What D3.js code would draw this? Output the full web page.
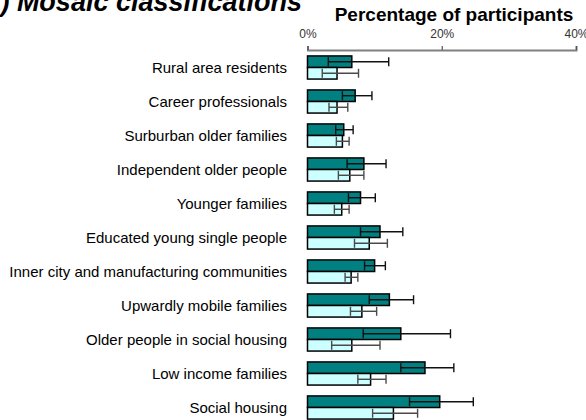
<!DOCTYPE html>
<html>
<head>
<meta charset="utf-8">
<script src="https://cdn.jsdelivr.net/npm/d3@7"></script>
<style>
  html, body { margin: 0; padding: 0; background: #fff; }
  svg { display: block; font-family: "Liberation Sans", Arial, sans-serif; }
</style>
</head>
<body>
<svg id="chart" width="586" height="420"></svg>
<script>
// Mosaic groups, top to bottom
const categories = [
  "Rural area residents",
  "Career professionals",
  "Surburban older families",
  "Independent older people",
  "Younger families",
  "Educated young single people",
  "Inner city and manufacturing communities",
  "Upwardly mobile families",
  "Older people in social housing",
  "Low income families",
  "Social housing"
];

// Participants (dark bars): percentage with 95% interval
const participantPct  = [6.6, 7.1, 5.4, 8.4, 7.9, 10.8, 10.0, 12.2, 13.9, 17.5, 19.7];
const participantLow  = [3.1, 5.2, 4.2, 5.9, 6.1, 7.9, 8.5, 9.2, 8.3, 13.9, 15.2];
const participantHigh = [12.1, 9.6, 6.8, 11.7, 10.1, 14.2, 11.6, 15.8, 21.3, 21.8, 24.7];

// Comparison population (light bars): percentage with 95% interval
const populationPct  = [4.4, 4.4, 5.2, 6.3, 5.1, 9.2, 6.5, 8.1, 6.6, 9.4, 12.8];
const populationLow  = [2.2, 3.2, 4.3, 4.6, 4.0, 7.0, 5.6, 6.4, 3.6, 7.5, 9.7];
const populationHigh = [7.6, 6.0, 6.2, 8.4, 6.2, 11.9, 7.5, 10.3, 10.8, 11.7, 16.4];

const xTicks = [0, 20, 40];
const xTickLabels = ["0%", "20%", "40%"];

const series = [
  { key: "participants", pct: participantPct, low: participantLow, high: participantHigh,
    fill: "#008080", err: "#111111" },
  { key: "population", pct: populationPct, low: populationLow, high: populationHigh,
    fill: "#ccffff", err: "#4a4a4a" }
];

const svg = d3.select("#chart");

const x = d3.scaleLinear().domain([0, 40]).range([307.5, 576]);
const y = d3.scaleBand().domain(categories).range([50.5, 424.5])
  .paddingInner(0.32).paddingOuter(0.16);
const ySub = d3.scaleBand().domain(series.map(s => s.key)).range([0, y.bandwidth()]);

// Panel heading, partly above the top edge
svg.append("text")
  .attr("x", 302).attr("y", 11)
  .attr("text-anchor", "end")
  .attr("font-size", 27).attr("font-weight", "bold").attr("font-style", "italic")
  .attr("fill", "#000")
  .text("(a) Mosaic classifications");

// Axis title
svg.append("text")
  .attr("x", 454).attr("y", 21)
  .attr("text-anchor", "middle")
  .attr("font-size", 19).attr("font-weight", "bold")
  .attr("fill", "#000")
  .text("Percentage of participants");

// Top axis
const axis = d3.axisTop(x)
  .tickValues(xTicks)
  .tickFormat((d, i) => xTickLabels[i])
  .tickSizeInner(4).tickSizeOuter(4).tickPadding(8);
const gAxis = svg.append("g").attr("transform", "translate(0,50)").call(axis);
gAxis.select(".domain").attr("stroke", "#808080").attr("stroke-width", 2);
gAxis.selectAll(".tick line").attr("stroke", "#555").attr("stroke-width", 1.2);
gAxis.selectAll(".tick text")
  .attr("font-size", 12).attr("fill", "#333")
  .attr("font-family", "'Liberation Sans', Arial, sans-serif");

// Category labels
svg.append("g").selectAll("text")
  .data(categories)
  .join("text")
  .attr("x", 287)
  .attr("y", d => y(d) + y.bandwidth() / 2)
  .attr("dy", "0.35em")
  .attr("text-anchor", "end")
  .attr("font-size", 15)
  .attr("fill", "#000")
  .text(d => d);

// Bars and intervals
series.forEach(s => {
  const g = svg.append("g");
  const rows = categories.map((c, i) => ({ c, v: s.pct[i], lo: s.low[i], hi: s.high[i] }));
  const h = ySub.bandwidth();
  const y0 = d => y(d.c) + ySub(s.key);

  g.selectAll("rect")
    .data(rows)
    .join("rect")
    .attr("x", x(0))
    .attr("y", y0)
    .attr("width", d => x(d.v) - x(0))
    .attr("height", h)
    .attr("fill", s.fill)
    .attr("stroke", "#000")
    .attr("stroke-width", 1.5);

  const e = g.selectAll("g.err").data(rows).join("g").attr("class", "err")
    .attr("stroke", s.err).attr("stroke-width", 1.4);
  e.append("line")
    .attr("x1", d => x(d.lo)).attr("x2", d => x(d.hi))
    .attr("y1", d => y0(d) + h / 2).attr("y2", d => y0(d) + h / 2);
  e.append("line")
    .attr("x1", d => x(d.lo)).attr("x2", d => x(d.lo))
    .attr("y1", d => y0(d) + h / 2 - 4.5).attr("y2", d => y0(d) + h / 2 + 4.5);
  e.append("line")
    .attr("x1", d => x(d.hi)).attr("x2", d => x(d.hi))
    .attr("y1", d => y0(d) + h / 2 - 4.5).attr("y2", d => y0(d) + h / 2 + 4.5);
});
</script>
</body>
</html>
